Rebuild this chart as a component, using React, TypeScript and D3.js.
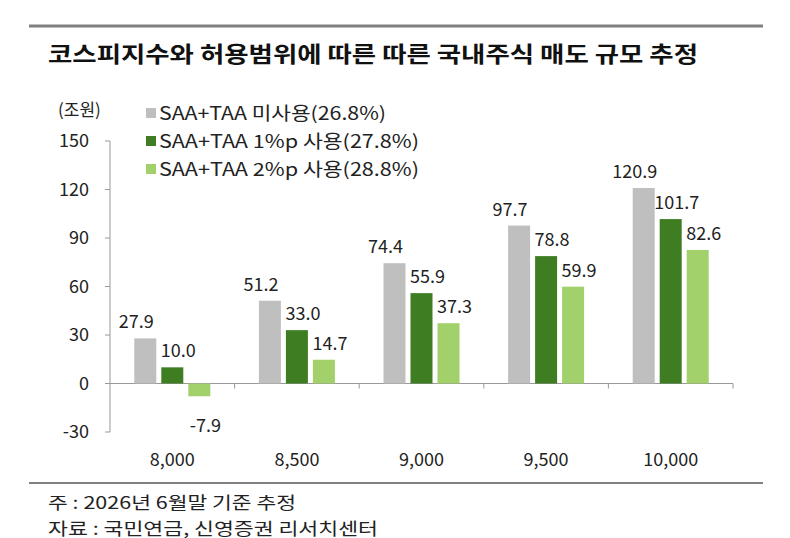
import React from "react";
import * as d3 from "d3";

const categories = ["8,000", "8,500", "9,000", "9,500", "10,000"];
const seriesNames = ["SAA+TAA 미사용(26.8%)", "SAA+TAA 1%p 사용(27.8%)", "SAA+TAA 2%p 사용(28.8%)"];
const s0 = [27.9, 51.2, 74.4, 97.7, 120.9];
const s1 = [10.0, 33.0, 55.9, 78.8, 101.7];
const s2 = [-7.9, 14.7, 37.3, 59.9, 82.6];
const colors = ["#bfbfbf", "#3f7d23", "#a2d06a"];
const yTicks = [-30, 0, 30, 60, 90, 120, 150];
const legendLen = [227, 260, 260];

export default function App() {
  const font = "'Noto Sans CJK KR', 'Noto Sans', sans-serif";
  const x0 = 110, x1 = 733;
  const y = d3.scaleLinear().domain([-30, 150]).range([432, 141]);
  const xb = d3.scaleBand().domain(categories).range([x0, x1]);
  const series = [s0, s1, s2];
  const bw = 22, gap = 5;
  return (
    <svg width={790} height={538} style={{ position: "absolute", left: 0, top: 0 }} fontFamily={font}>
      <rect width={790} height={538} fill="#fff" />
      <line x1={29} x2={763} y1={26} y2={26} stroke="#808080" strokeWidth={3} />
      <text x={48} y={62} fontSize={22} fontWeight="bold" fill="#111" textLength={650} lengthAdjust="spacingAndGlyphs">코스피지수와 허용범위에 따른 따른 국내주식 매도 규모 추정</text>
      <text x={58} y={116} fontSize={17} fill="#222">(조원)</text>
      {seriesNames.map((n, i) => (
        <g key={n}>
          <rect x={146} y={108 + i * 28} width={10} height={10} fill={colors[i]} />
          <text x={159} y={120 + i * 28} fontSize={18} fill="#222" textLength={legendLen[i]} lengthAdjust="spacingAndGlyphs">{n}</text>
        </g>
      ))}
      <line x1={x0} x2={x0} y1={y(150)} y2={y(-30)} stroke="#999" />
      {yTicks.map(t => (
        <g key={t}>
          <line x1={x0 - 5} x2={x0} y1={y(t)} y2={y(t)} stroke="#999" />
          <text x={89} y={y(t) + 6} fontSize={18} textAnchor="end" fill="#222">{t}</text>
        </g>
      ))}
      <line x1={x0} x2={x1} y1={y(0)} y2={y(0)} stroke="#999" />
      {categories.map((c, ci) => {
        const cx = xb(c)! + xb.bandwidth() / 2;
        return (
          <g key={c}>
            <line x1={xb(c)! + xb.bandwidth()} x2={xb(c)! + xb.bandwidth()} y1={y(0)} y2={y(0) + 5} stroke="#999" />
            <text x={cx} y={466} fontSize={18} textAnchor="middle" fill="#222">{c}</text>
            {series.map((s, si) => {
              const v = s[ci];
              const bx = cx - bw / 2 + (si - 1) * (bw + gap);
              const top = Math.min(y(v), y(0));
              const h = Math.abs(y(v) - y(0));
              const ly = v >= 0 ? y(v) - 10 : y(v) + 36;
              return (
                <g key={si}>
                  <rect x={bx} y={top} width={bw} height={h} fill={colors[si]} />
                  <text x={bx + bw / 2 + (si === 0 ? -9 : 6)} y={ly} fontSize={18} textAnchor="middle" fill="#222">{v.toFixed(1)}</text>
                </g>
              );
            })}
          </g>
        );
      })}
      <line x1={29} x2={763} y1={483} y2={483} stroke="#808080" strokeWidth={2} />
      <text x={48} y={509} fontSize={17} fill="#222" textLength={248} lengthAdjust="spacingAndGlyphs">주 : 2026년 6월말 기준 추정</text>
      <text x={48} y={535} fontSize={17} fill="#222" textLength={330} lengthAdjust="spacingAndGlyphs">자료 : 국민연금, 신영증권 리서치센터</text>
    </svg>
  );
}
